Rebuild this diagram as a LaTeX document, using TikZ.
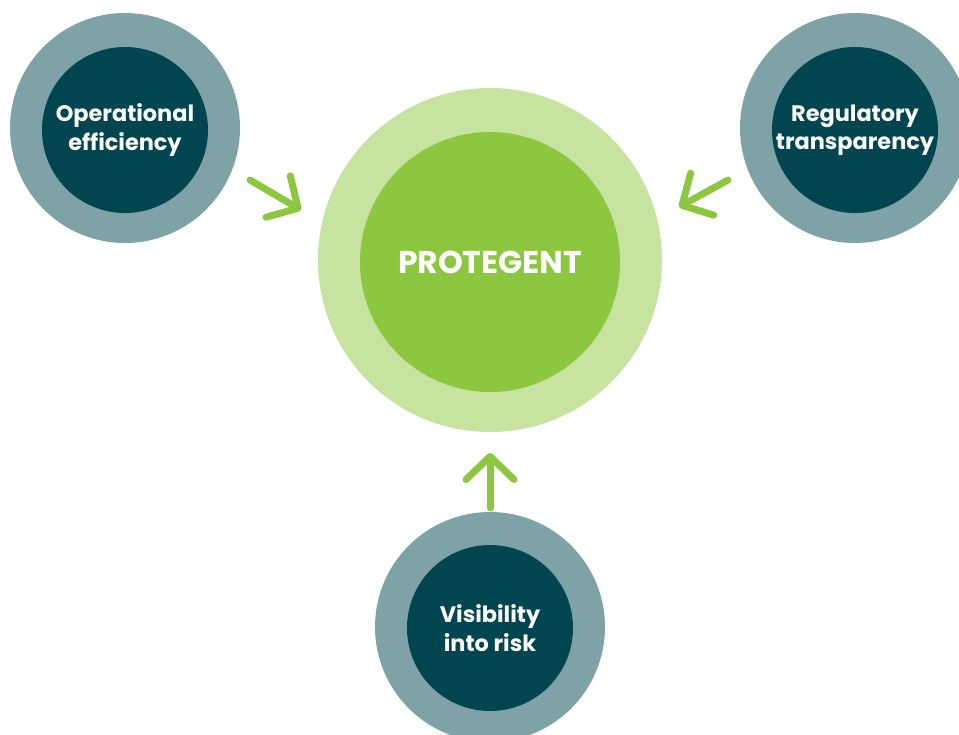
\documentclass[tikz,border=0pt]{standalone}
\usepackage{fontspec}
\setmainfont{Poppins}
\usetikzlibrary{arrows.meta}
\definecolor{ringteal}{HTML}{7FA2A6}
\definecolor{coreteal}{HTML}{00454F}
\definecolor{ringgreen}{HTML}{C6E3A0}
\definecolor{coregreen}{HTML}{8DC63F}
\begin{document}
\begin{tikzpicture}[x=1pt,y=-1pt,line cap=round,line join=round,>={Straight Barb[length=23pt,width=48pt,round]},
	ring/.style={circle,fill=ringteal,minimum size=230pt,inner sep=0pt},
	core/.style={circle,fill=coreteal,minimum size=166pt,inner sep=0pt,text=white,align=center,font=\fontsize{22.4pt}{28.5pt}\selectfont\bfseries},
	feed/.style={->,draw=coregreen,line width=7pt}]
	\useasboundingbox (0,0) rectangle (959,734);
	% central circle
	\node[circle,fill=ringgreen,minimum size=344pt] (hubring) at (490,260) {};
	\node[circle,fill=coregreen,minimum size=260pt,text=white,font=\fontsize{31.5pt}{34pt}\selectfont\bfseries] (hub) at (490,262) {PROTEGENT};
	% outer circles
	\node[ring] (opring) at (125,128) {};\node[core] (op) at (125,130) {Operational\\efficiency};
	\node[ring] (regring) at (855,128) {};\node[core] (reg) at (855,130) {Regulatory\\transparency};
	\node[ring] (visring) at (490,627) {};\node[core] (vis) at (490,628) {Visibility\\into risk};
	% arrows
	\coordinate (opfrom) at (250,180);\coordinate (opto) at (301,210);
	\coordinate (regfrom) at (728,180);\coordinate (regto) at (679,207);
	\coordinate (visfrom) at (490,508);\coordinate (visto) at (490,453);
	\draw[feed] (opfrom)--(opto);\draw[feed] (regfrom)--(regto);\draw[feed] (visfrom)--(visto);
\end{tikzpicture}
\end{document}
